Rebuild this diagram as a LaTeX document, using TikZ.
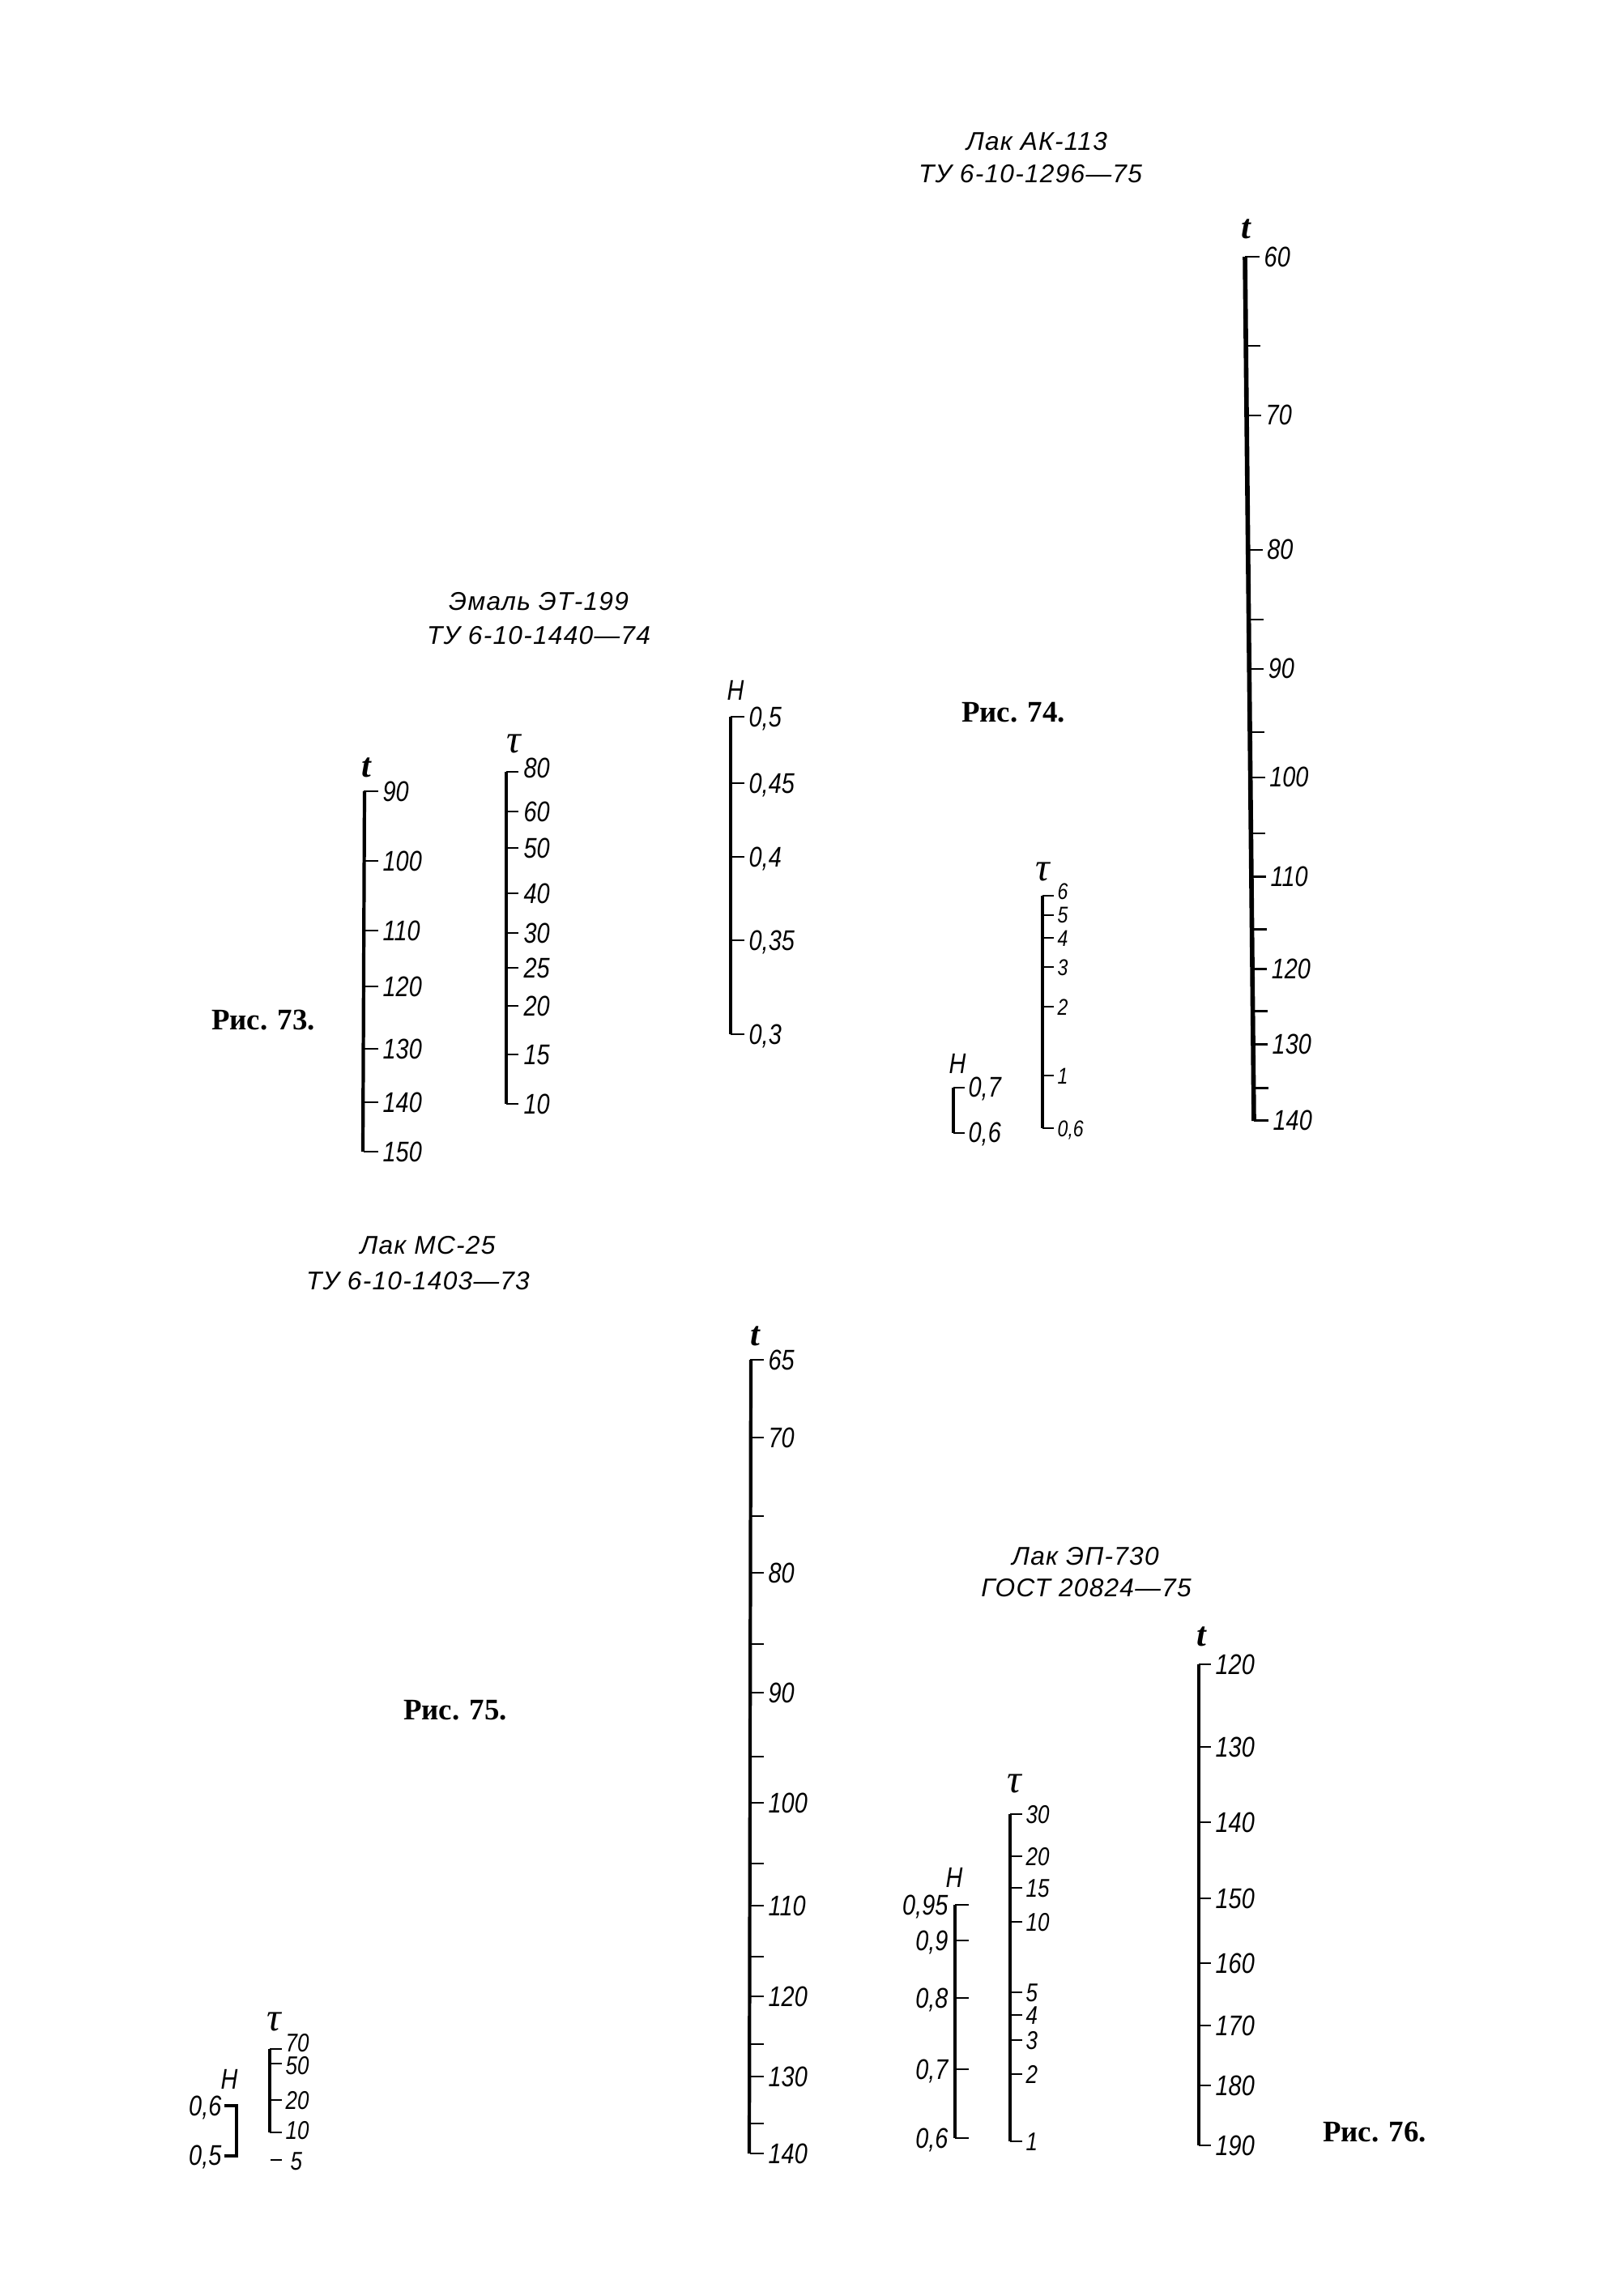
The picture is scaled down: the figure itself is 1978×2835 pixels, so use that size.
\documentclass[tikz,border=0pt]{standalone}
\usepackage{fontspec}
\setmainfont{Liberation Sans}
\newfontfamily\labf[FakeStretch=0.82]{Liberation Sans}
\newfontfamily\ttlf[LetterSpace=4]{Liberation Sans}
\newfontfamily\serf{Liberation Serif}
\usetikzlibrary{calc}
\tikzset{
  axisline/.style={line width=1.2pt},
  thickaxis/.style={line width=1.6pt},
  tickline/.style={line width=0.8pt},
  lbl/.style={anchor=base west, inner sep=0pt, font=\labf\itshape\fontsize{10}{10}\selectfont},
  lblm/.style={anchor=base west, inner sep=0pt, font=\labf\itshape\fontsize{9}{9}\selectfont},
  lbls/.style={anchor=base west, inner sep=0pt, font=\labf\itshape\fontsize{8}{8}\selectfont},
  lble/.style={anchor=base east, inner sep=0pt, font=\labf\itshape\fontsize{10}{10}\selectfont},
  tsym/.style={inner sep=0pt, font=\serf\itshape\bfseries\fontsize{12}{12}\selectfont},
  tausym/.style={inner sep=0pt, font=\serf\itshape\fontsize{14}{14}\selectfont},
  hsym/.style={inner sep=0pt, font=\labf\itshape\fontsize{10}{10}\selectfont},
  ttl/.style={inner sep=0pt, font=\ttlf\itshape\fontsize{9}{9}\selectfont},
  figlbl/.style={inner sep=0pt, font=\serf\bfseries\fontsize{10.5}{10.5}\selectfont},
}
\begin{document}
\begin{tikzpicture}[x=0.1mm,y=-0.1mm]
\useasboundingbox (0,0) rectangle (1978,2835);

% ================= Fig 74 =================
\node[ttl] (ttl74a) at (1280,175) {Лак АК-113};
\node[ttl] (ttl74b) at (1272,215) {ТУ 6-10-1296—75};
\node[figlbl] (fig74) at (1251,880) {Рис. 74.};
% t scale
\node[tsym] (t74) at (1538,283) {t};
\coordinate (a74) at (1537,317); \coordinate (b74) at (1548,1384);
\draw[thickaxis] (a74) -- (b74);
\foreach \y/\v [count=\i] in {317/60,513/70,679/80,826/90,960/100,1083/110,1197/120,1290/130,1384/140}{
  \draw[tickline] ($(a74)!(1540,\y)!(b74)$) -- ++(18,0) coordinate (e74t\i);
  \node[lbl] (l74t\i) at ($(e74t\i)+(5,12)$) {\v};
}
\foreach \y [count=\i] in {427,765,904,1029,1148,1249,1344}{
  \draw[tickline] ($(a74)!(1540,\y)!(b74)$) -- ++(18,0) coordinate (m74t\i);
}
% tau scale
\node[tausym] (tau74) at (1287,1076) {τ};
\draw[axisline] (1287,1106) -- (1287,1393);
\foreach \y/\ly/\v [count=\i] in {1106/1100/6,1130/1129/5,1158/1158/4,1194/1194/3,1243/1243/2,1328/1328/1,1393/1393/{0,6}}{
  \draw[tickline] (1287,\y) -- ++(14,0) coordinate (e74u\i);
  \node[lbls] (l74u\i) at ($(e74u\i)+(4,\ly-\y+10)$) {\v};
}
% H scale
\node[hsym] (h74) at (1182,1313) {H};
\draw[axisline] (1177,1343) -- (1177,1399);
\foreach \y/\v [count=\i] in {1343/{0,7},1399/{0,6}}{
  \draw[tickline] (1177,\y) -- ++(14,0) coordinate (e74h\i);
  \node[lbl] (l74h\i) at ($(e74h\i)+(4,11)$) {\v};
}

% ================= Fig 73 =================
\node[ttl] (ttl73a) at (665,743) {Эмаль ЭТ-199};
\node[ttl] (ttl73b) at (665,785) {ТУ 6-10-1440—74};
\node[figlbl] (fig73) at (325,1260) {Рис. 73.};
% t scale
\node[tsym] (t73) at (452,948) {t};
\draw[axisline] (450,977) -- (448,1422);
\foreach \y/\v [count=\i] in {977/90,1063/100,1149/110,1218/120,1295/130,1361/140,1422/150}{
  \draw[tickline] (449,\y) -- ++(18,0) coordinate (e73t\i);
  \node[lbl] (l73t\i) at ($(e73t\i)+(5,12)$) {\v};
}
% tau scale
\node[tausym] (tau73) at (634,918) {τ};
\draw[axisline] (625,953) -- (625,1363);
\foreach \y/\ly/\v [count=\i] in {953/948/80,1002/1002/60,1047/1047/50,1103/1103/40,1152/1152/30,1195/1195/25,1242/1242/20,1302/1302/15,1363/1363/10}{
  \draw[tickline] (625,\y) -- ++(15,0) coordinate (e73u\i);
  \node[lbl] (l73u\i) at ($(e73u\i)+(6,\ly-\y+12)$) {\v};
}
% H scale
\node[hsym] (h73) at (908,852) {H};
\draw[axisline] (902,885) -- (902,1277);
\foreach \y/\v [count=\i] in {885/{0,5},967/{0,45},1058/{0,4},1161/{0,35},1277/{0,3}}{
  \draw[tickline] (902,\y) -- ++(17,0) coordinate (e73h\i);
  \node[lbl] (l73h\i) at ($(e73h\i)+(5,12)$) {\v};
}

% ================= Fig 75 =================
\node[ttl] (ttl75a) at (528,1538) {Лак МС-25};
\node[ttl] (ttl75b) at (516,1582) {ТУ 6-10-1403—73};
\node[figlbl] (fig75) at (562,2112) {Рис. 75.};
% t scale
\node[tsym] (t75) at (932,1650) {t};
\draw[axisline] (927,1679) -- (925,2659);
\foreach \y/\v [count=\i] in {1679/65,1775/70,1942/80,2090/90,2226/100,2353/110,2465/120,2564/130,2659/140}{
  \draw[tickline] (926,\y) -- ++(17,0) coordinate (e75t\i);
  \node[lbl] (l75t\i) at ($(e75t\i)+(5,12)$) {\v};
}
\foreach \y [count=\i] in {1872,2030,2169,2301,2416,2524,2622}{
  \draw[tickline] (926,\y) -- ++(17,0) coordinate (m75t\i);
}
% tau scale (small)
\node[tausym] (tau75) at (338,2496) {τ};
\draw[axisline] (333,2530) -- (333,2633);
\foreach \y/\ly/\v [count=\i] in {2530/2522/70,2548/2550/50,2593/2593/20,2633/2630/10}{
  \draw[tickline] (333,\y) -- ++(15,0) coordinate (e75u\i);
  \node[lblm] (l75u\i) at ($(e75u\i)+(4,\ly-\y+11)$) {\v};
}
\draw[tickline] (334,2667) -- (348,2667) coordinate (e75u5);
\node[lblm] (l75u5) at ($(e75u5)+(10,12)$) {5};
% H scale (small)
\node[hsym] (h75) at (283,2567) {H};
\draw[line width=0.9pt] (277,2600) -- (292,2600) -- (292,2662) -- (277,2662);
\node[lble] (l75h1) at (274,2612) {0,6};
\node[lble] (l75h2) at (274,2673) {0,5};

% ================= Fig 76 =================
\node[ttl] (ttl76a) at (1340,1922) {Лак ЭП-730};
\node[ttl] (ttl76b) at (1341,1961) {ГОСТ 20824—75};
\node[figlbl] (fig76) at (1697,2633) {Рис. 76.};
% t scale
\node[tsym] (t76) at (1483,2021) {t};
\draw[axisline] (1480,2055) -- (1480,2649);
\foreach \y/\v [count=\i] in {2055/120,2157/130,2250/140,2344/150,2424/160,2501/170,2575/180,2649/190}{
  \draw[tickline] (1480,\y) -- ++(15,0) coordinate (e76t\i);
  \node[lbl] (l76t\i) at ($(e76t\i)+(5,12)$) {\v};
}
% tau scale
\node[tausym] (tau76) at (1252,2202) {τ};
\draw[axisline] (1247,2240) -- (1247,2644);
\foreach \y/\v [count=\i] in {2240/30,2292/20,2331/15,2373/10,2460/5,2488/4,2519/3,2561/2,2644/1}{
  \draw[tickline] (1247,\y) -- ++(15,0) coordinate (e76u\i);
  \node[lblm] (l76u\i) at ($(e76u\i)+(4,11)$) {\v};
}
% H scale
\node[hsym] (h76) at (1178,2318) {H};
\draw[axisline] (1179,2352) -- (1179,2640);
\foreach \y/\v [count=\i] in {2352/{0,95},2396/{0,9},2467/{0,8},2555/{0,7},2640/{0,6}}{
  \draw[tickline] (1179,\y) -- ++(17,0) coordinate (e76h\i);
  \node[lble] (l76h\i) at (1171,\y+12) {\v};
}
\end{tikzpicture}
\end{document}
